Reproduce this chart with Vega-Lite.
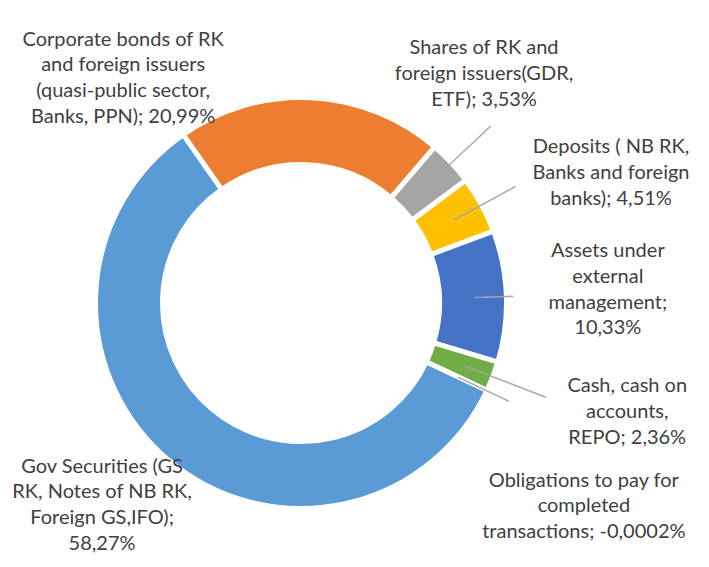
{
  "$schema": "https://vega.github.io/schema/vega-lite/v6.json",
  "width": 602,
  "height": 528,
  "autosize": {"type": "none"},
  "padding": {"left": 0, "top": 39, "right": 107, "bottom": 0},
  "background": "white",
  "config": {
    "view": {"stroke": null},
    "text": {"font": "Lato", "fontSize": 20, "fill": "#404040", "lineHeight": 25.7}
  },
  "data": {
    "values": [
      {"order": 1, "category": "Corporate bonds of RK and foreign issuers (quasi-public sector, Banks, PPN)", "value": 20.99, "label": "Corporate bonds of RK\nand foreign issuers\n(quasi-public sector,\nBanks, PPN); 20,99%"},
      {"order": 2, "category": "Shares of RK and foreign issuers(GDR, ETF)", "value": 3.53, "label": "Shares of RK and\nforeign issuers(GDR,\nETF); 3,53%"},
      {"order": 3, "category": "Deposits ( NB RK, Banks and foreign banks)", "value": 4.51, "label": "Deposits ( NB RK,\nBanks and foreign\nbanks); 4,51%"},
      {"order": 4, "category": "Assets under external management", "value": 10.33, "label": "Assets under\nexternal\nmanagement;\n10,33%"},
      {"order": 5, "category": "Cash, cash on accounts, REPO", "value": 2.36, "label": "Cash, cash on\naccounts,\nREPO; 2,36%"},
      {"order": 6, "category": "Obligations to pay for completed transactions", "value": -0.0002, "label": "Obligations to pay for\ncompleted\ntransactions; -0,0002%"},
      {"order": 7, "category": "Gov Securities (GS RK, Notes of NB RK, Foreign GS,IFO)", "value": 58.27, "label": "Gov Securities (GS\nRK, Notes of NB RK,\nForeign GS,IFO);\n58,27%"}
    ]
  },
  "transform": [
    {"window": [{"op": "sum", "field": "value", "as": "cum"}], "sort": [{"field": "order"}], "frame": [null, 0]},
    {"calculate": "datum.cum - datum.value", "as": "start"},
    {"calculate": "datum.cum - datum.value / 2", "as": "mid"},
    {"calculate": "datum.mid + 0.05", "as": "mid2"}
  ],
  "layer": [
    {
      "mark": {"type": "arc", "radius": 205.5, "radius2": 138.5, "stroke": "white", "strokeWidth": 5},
      "encoding": {
        "theta": {"field": "start", "type": "quantitative", "stack": false, "scale": {"type": "linear", "domain": [0, 99.9898], "range": [-0.61087, 5.67232], "zero": false}},
        "theta2": {"field": "cum"},
        "color": {
          "field": "category", "type": "nominal", "legend": null,
          "scale": {
            "domain": ["Corporate bonds of RK and foreign issuers (quasi-public sector, Banks, PPN)", "Shares of RK and foreign issuers(GDR, ETF)", "Deposits ( NB RK, Banks and foreign banks)", "Assets under external management", "Cash, cash on accounts, REPO", "Obligations to pay for completed transactions", "Gov Securities (GS RK, Notes of NB RK, Foreign GS,IFO)"],
            "range": ["#ED7D31", "#A5A5A5", "#FFC000", "#4472C4", "#70AD47", "#264478", "#5B9BD5"]
          }
        }
      }
    },
    {
      "transform": [{"filter": "datum.order == 2"}],
      "mark": {"type": "arc", "radius": 259, "radius2": 174, "fill": "#A6A6A6", "stroke": "#A6A6A6", "strokeWidth": 0.8},
      "encoding": {"theta": {"field": "mid", "type": "quantitative", "stack": false, "scale": {"type": "linear", "domain": [0, 99.9898], "range": [-0.61087, 5.67232], "zero": false}}, "theta2": {"field": "mid2"}}
    },
    {
      "transform": [{"filter": "datum.order == 3"}],
      "mark": {"type": "arc", "radius": 244, "radius2": 174, "fill": "#A6A6A6", "stroke": "#A6A6A6", "strokeWidth": 0.8},
      "encoding": {"theta": {"field": "mid", "type": "quantitative", "stack": false, "scale": {"type": "linear", "domain": [0, 99.9898], "range": [-0.61087, 5.67232], "zero": false}}, "theta2": {"field": "mid2"}}
    },
    {
      "transform": [{"filter": "datum.order == 4"}],
      "mark": {"type": "arc", "radius": 212, "radius2": 174, "fill": "#A6A6A6", "stroke": "#A6A6A6", "strokeWidth": 0.8},
      "encoding": {"theta": {"field": "mid", "type": "quantitative", "stack": false, "scale": {"type": "linear", "domain": [0, 99.9898], "range": [-0.61087, 5.67232], "zero": false}}, "theta2": {"field": "mid2"}}
    },
    {
      "transform": [{"filter": "datum.order == 5"}],
      "mark": {"type": "arc", "radius": 262, "radius2": 174, "fill": "#A6A6A6", "stroke": "#A6A6A6", "strokeWidth": 0.8},
      "encoding": {"theta": {"field": "mid", "type": "quantitative", "stack": false, "scale": {"type": "linear", "domain": [0, 99.9898], "range": [-0.61087, 5.67232], "zero": false}}, "theta2": {"field": "mid2"}}
    },
    {
      "transform": [{"filter": "datum.order == 6"}],
      "mark": {"type": "arc", "radius": 230, "radius2": 174, "fill": "#A6A6A6", "stroke": "#A6A6A6", "strokeWidth": 0.8},
      "encoding": {"theta": {"field": "mid", "type": "quantitative", "stack": false, "scale": {"type": "linear", "domain": [0, 99.9898], "range": [-0.61087, 5.67232], "zero": false}}, "theta2": {"field": "mid2"}}
    },
    {
      "transform": [{"filter": "datum.order == 1"}],
      "mark": {"type": "text", "radius": 230, "dx": -189, "dy": -33.5, "align": "center", "baseline": "middle", "lineBreak": "\n"},
      "encoding": {"theta": {"field": "mid", "type": "quantitative", "stack": false, "scale": {"type": "linear", "domain": [0, 99.9898], "range": [-0.61087, 5.67232], "zero": false}}, "text": {"field": "label"}}
    },
    {
      "transform": [{"filter": "datum.order == 2"}],
      "mark": {"type": "text", "radius": 293, "dx": -31, "dy": -54.7, "align": "center", "baseline": "middle", "lineBreak": "\n"},
      "encoding": {"theta": {"field": "mid", "type": "quantitative", "stack": false, "scale": {"type": "linear", "domain": [0, 99.9898], "range": [-0.61087, 5.67232], "zero": false}}, "text": {"field": "label"}}
    },
    {
      "transform": [{"filter": "datum.order == 3"}],
      "mark": {"type": "text", "radius": 336, "dx": 15, "dy": 5.3, "align": "center", "baseline": "middle", "lineBreak": "\n"},
      "encoding": {"theta": {"field": "mid", "type": "quantitative", "stack": false, "scale": {"type": "linear", "domain": [0, 99.9898], "range": [-0.61087, 5.67232], "zero": false}}, "text": {"field": "label"}}
    },
    {
      "transform": [{"filter": "datum.order == 4"}],
      "mark": {"type": "text", "radius": 307, "dx": 0, "dy": -41.5, "align": "center", "baseline": "middle", "lineBreak": "\n"},
      "encoding": {"theta": {"field": "mid", "type": "quantitative", "stack": false, "scale": {"type": "linear", "domain": [0, 99.9898], "range": [-0.61087, 5.67232], "zero": false}}, "text": {"field": "label"}}
    },
    {
      "transform": [{"filter": "datum.order == 5"}],
      "mark": {"type": "text", "radius": 344, "dx": 5, "dy": -39.7, "align": "center", "baseline": "middle", "lineBreak": "\n"},
      "encoding": {"theta": {"field": "mid", "type": "quantitative", "stack": false, "scale": {"type": "linear", "domain": [0, 99.9898], "range": [-0.61087, 5.67232], "zero": false}}, "text": {"field": "label"}}
    },
    {
      "transform": [{"filter": "datum.order == 6"}],
      "mark": {"type": "text", "radius": 348, "dx": -32, "dy": 29.3, "align": "center", "baseline": "middle", "lineBreak": "\n"},
      "encoding": {"theta": {"field": "mid", "type": "quantitative", "stack": false, "scale": {"type": "linear", "domain": [0, 99.9898], "range": [-0.61087, 5.67232], "zero": false}}, "text": {"field": "label"}}
    },
    {
      "transform": [{"filter": "datum.order == 7"}],
      "mark": {"type": "text", "radius": 284, "dx": -16, "dy": -53.5, "align": "center", "baseline": "middle", "lineBreak": "\n"},
      "encoding": {"theta": {"field": "mid", "type": "quantitative", "stack": false, "scale": {"type": "linear", "domain": [0, 99.9898], "range": [-0.61087, 5.67232], "zero": false}}, "text": {"field": "label"}}
    }
  ]
}
